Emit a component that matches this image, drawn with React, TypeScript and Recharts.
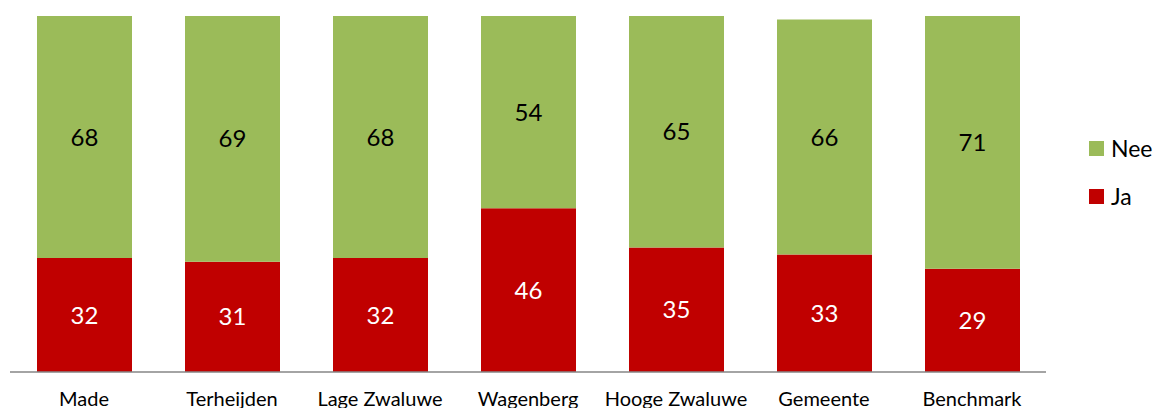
import React from 'react'
import { Bar, BarChart, LabelList, Legend, XAxis, YAxis } from 'recharts'

const categories = [
  'Made',
  'Terheijden',
  'Lage Zwaluwe',
  'Wagenberg',
  'Hooge Zwaluwe',
  'Gemeente',
  'Benchmark',
]
const jaValues = [32, 31, 32, 46, 35, 33, 29]
const neeValues = [68, 69, 68, 54, 65, 66, 71]

const RED = '#C00000'
const GREEN = '#9BBB59'
const FONT = 'Lato, "Open Sans", sans-serif'

const data = categories.map((name, i) => ({
  name,
  ja: jaValues[i],
  nee: neeValues[i],
}))

const legendItems = [
  { label: 'Nee', color: GREEN },
  { label: 'Ja', color: RED },
]

const renderLegend = () => (
  <div style={{ fontFamily: FONT, fontSize: 23, color: '#000' }}>
    {legendItems.map((item) => (
      <div
        key={item.label}
        style={{ display: 'flex', alignItems: 'center', height: 48 }}
      >
        <span
          style={{
            display: 'inline-block',
            width: 15,
            height: 15,
            background: item.color,
            marginRight: 7,
          }}
        />
        <span>{item.label}</span>
      </div>
    ))}
  </div>
)

export default function App() {
  return (
    <div style={{ width: 1154, height: 408, background: '#fff' }}>
      <style>{'body{margin:0}'}</style>
      <BarChart
        width={1154}
        height={408}
        data={data}
        margin={{ top: 16, right: 38, bottom: 0, left: 10 }}
      >
        <XAxis
          dataKey='name'
          height={36}
          tickLine={false}
          tickSize={0}
          tickMargin={20}
          axisLine={{ stroke: '#868686', strokeWidth: 1.5 }}
          tick={{ fill: '#000', fontSize: 20, fontFamily: FONT }}
          interval={0}
        />
        <YAxis hide domain={[0, 100]} />
        <Legend
          content={renderLegend}
          layout='vertical'
          verticalAlign='top'
          align='right'
          wrapperStyle={{ left: 1089, top: 124, width: 70 }}
        />
        <Bar dataKey='ja' stackId='a' fill={RED} barSize={95} isAnimationActive={false}>
          <LabelList
            dataKey='ja'
            position='center'
            fill='#fff'
            style={{ fontSize: 24, fontFamily: FONT }}
          />
        </Bar>
        <Bar dataKey='nee' stackId='a' fill={GREEN} barSize={95} isAnimationActive={false}>
          <LabelList
            dataKey='nee'
            position='center'
            fill='#000'
            style={{ fontSize: 24, fontFamily: FONT }}
          />
        </Bar>
      </BarChart>
    </div>
  )
}
